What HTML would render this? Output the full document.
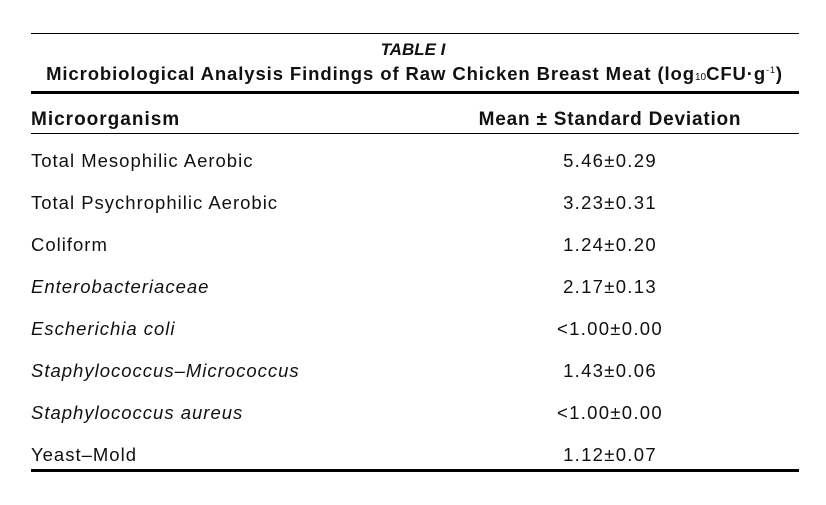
<!DOCTYPE html>
<html><head><meta charset="utf-8"><style>
body{margin:0;width:826px;height:505px;background:#fff;position:relative;font-family:"Liberation Sans",sans-serif;color:#111;overflow:hidden}
.l{position:absolute;left:31px;width:768px;background:#000}
.t{position:absolute;white-space:nowrap;line-height:1}
.c{position:absolute;left:415px;width:390px;text-align:center;font-size:18.5px;line-height:1;letter-spacing:1.3px}
.n{left:31px;font-size:18.5px;letter-spacing:1px}
</style></head><body>
<div class="l" style="top:33px;height:1px"></div>
<div class="t" style="left:0;width:826px;text-align:center;top:41px;font-size:17px;font-weight:bold;font-style:italic">TABLE I</div>
<div class="t" style="left:0;width:829px;text-align:center;top:65px;font-size:18.5px;font-weight:bold;letter-spacing:0.9px">Microbiological Analysis Findings of Raw Chicken Breast Meat (log<span style="font-size:10px;font-weight:normal;letter-spacing:0">10</span>CFU·g<sup style="font-size:9px;font-weight:normal">-1</sup>)</div>
<div class="l" style="top:91px;height:3px"></div>
<div class="t" style="left:31px;top:110px;font-size:19px;font-weight:bold;letter-spacing:1px">Microorganism</div>
<div class="t" style="left:415px;width:390px;text-align:center;top:110px;font-size:19px;font-weight:bold;letter-spacing:0.8px">Mean ± Standard Deviation</div>
<div class="l" style="top:133px;height:1px"></div>
<div class="t n" style="top:152px">Total Mesophilic Aerobic</div><div class="c" style="top:152px">5.46±0.29</div>
<div class="t n" style="top:194px">Total Psychrophilic Aerobic</div><div class="c" style="top:194px">3.23±0.31</div>
<div class="t n" style="top:236px">Coliform</div><div class="c" style="top:236px">1.24±0.20</div>
<div class="t n" style="top:278px;font-style:italic">Enterobacteriaceae</div><div class="c" style="top:278px">2.17±0.13</div>
<div class="t n" style="top:320px;font-style:italic">Escherichia coli</div><div class="c" style="top:320px">&lt;1.00±0.00</div>
<div class="t n" style="top:362px;font-style:italic">Staphylococcus–Micrococcus</div><div class="c" style="top:362px">1.43±0.06</div>
<div class="t n" style="top:404px;font-style:italic">Staphylococcus aureus</div><div class="c" style="top:404px">&lt;1.00±0.00</div>
<div class="t n" style="top:446px">Yeast–Mold</div><div class="c" style="top:446px">1.12±0.07</div>
<div class="l" style="top:469px;height:3px"></div>
</body></html>
